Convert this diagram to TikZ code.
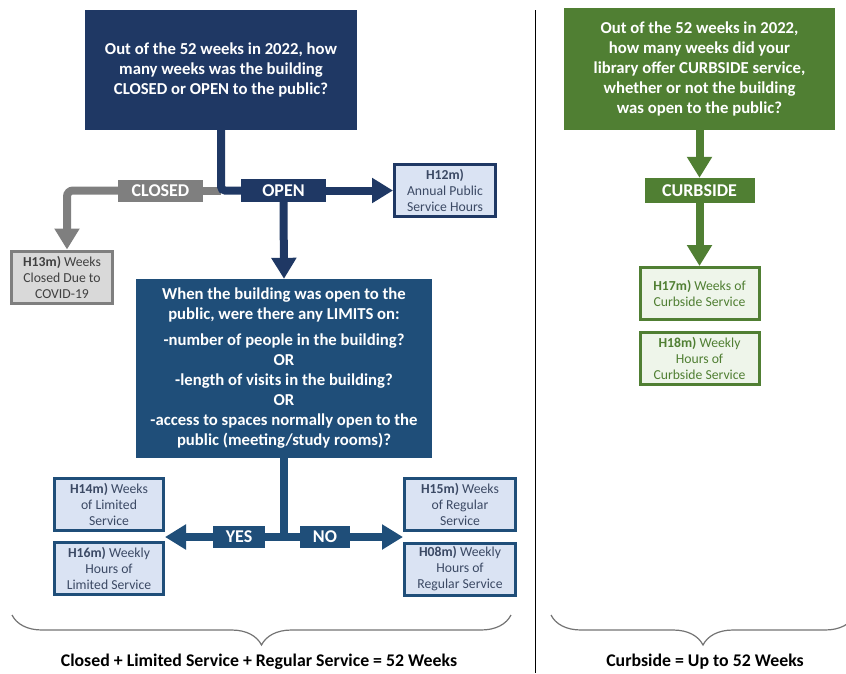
\documentclass[tikz,border=0pt]{standalone}
\usepackage{fontspec}
\setmainfont{Carlito}
\usetikzlibrary{arrows.meta,decorations.pathreplacing}

\definecolor{navy}{HTML}{1F3864}
\definecolor{midblue}{HTML}{1F4E79}
\definecolor{paleblue}{HTML}{DAE3F3}
\definecolor{bluetext}{HTML}{3B4964}
\definecolor{leaf}{HTML}{507F33}
\definecolor{palegreen}{HTML}{EEF5EA}
\definecolor{midgray}{HTML}{7F7F7F}
\definecolor{palegray}{HTML}{D9D9D9}

\tikzstyle{question} = [text=white, font=\bfseries\fontsize{16.7}{20}\selectfont, align=center, inner sep=0pt]
\tikzstyle{tag} = [text=white, font=\bfseries\fontsize{18}{20}\selectfont, inner sep=0pt]
\tikzstyle{field} = [line width=3pt, font=\fontsize{13.7}{16}\selectfont, align=center, inner sep=0pt, minimum height=52pt]
\tikzstyle{bluefield} = [field, draw=midblue, fill=paleblue, text=bluetext]
\tikzstyle{grayfield} = [field, draw=midgray, fill=palegray, text=black!75]
\tikzstyle{greenfield} = [field, draw=leaf, fill=palegreen, text=leaf]
\tikzstyle{line} = [line width=8pt]
\tikzstyle{arrow} = [line width=8pt, -{Triangle[width=24pt,length=21pt]}]
\tikzstyle{brace} = [decorate, decoration={brace, amplitude=30pt}, draw=black!55, line width=1.2pt]
\tikzstyle{total} = [font=\bfseries\fontsize{17.8}{20}\selectfont, inner sep=0pt]

\begin{document}
\begin{tikzpicture}[x=1pt,y=-1pt]
      \useasboundingbox (0,0) rectangle (846,673);

      \node[question, fill=navy, minimum width=272pt, minimum height=120pt] (q1) at (221, 70) {Out of the 52 weeks in 2022, how\\ many weeks was the building\\ CLOSED or OPEN to the public?};
      \node[tag, fill=midgray, minimum width=85pt, minimum height=22pt] (closed) at (160.5, 190.5) {CLOSED};
      \node[tag, fill=navy, minimum width=85pt, minimum height=23pt] (open) at (283.5, 190.5) {OPEN};
      \node[bluefield, draw=navy, minimum width=101pt] (h12) at (445, 190.5) {\textbf{H12m)}\\ Annual Public\\ Service Hours};
      \node[grayfield, minimum width=101pt] (h13) at (62, 277) {\textbf{H13m)} Weeks\\ Closed Due to\\ COVID-19};
      \node[question, fill=midblue, minimum width=296pt, minimum height=179pt] (limits) at (284, 368.5) {When the building was open to the\\ public, were there any LIMITS on:\\[6pt] -number of people in the building?\\ OR\\ -length of visits in the building?\\ OR\\ -access to spaces normally open to the\\ public (meeting/study rooms)?};
      \node[tag, fill=midblue, minimum width=52pt, minimum height=22pt] (yes) at (239, 537) {YES};
      \node[tag, fill=midblue, minimum width=50pt, minimum height=22pt] (no) at (325, 537) {NO};
      \node[bluefield, minimum width=109pt] (h14) at (109, 504) {\textbf{H14m)} Weeks\\ of Limited\\ Service};
      \node[bluefield, minimum width=109pt] (h16) at (109, 568.5) {\textbf{H16m)} Weekly\\ Hours of\\ Limited Service};
      \node[bluefield, minimum width=111pt] (h15) at (460, 504.5) {\textbf{H15m)} Weeks\\ of Regular\\ Service};
      \node[bluefield, minimum width=111pt] (h08) at (460, 569) {\textbf{H08m)} Weekly\\ Hours of\\ Regular Service};

      \node[question, fill=leaf, minimum width=271pt, minimum height=122pt] (q2) at (699.5, 69) {Out of the 52 weeks in 2022,\\ how many weeks did your\\ library offer CURBSIDE service,\\ whether or not the building\\ was open to the public?};
      \node[tag, fill=leaf, minimum width=110pt, minimum height=25pt] (curb) at (699.5, 190.5) {CURBSIDE};
      \node[greenfield, minimum width=119pt] (h17) at (699.5, 293.5) {\textbf{H17m)} Weeks of\\ Curbside Service};
      \node[greenfield, minimum width=119pt] (h18) at (699.5, 358.5) {\textbf{H18m)} Weekly\\ Hours of\\ Curbside Service};

      \node[total] (sum1) at (259, 662) {Closed + Limited Service + Regular Service = 52 Weeks};
      \node[total] (sum2) at (705, 662) {Curbside = Up to 52 Weeks};

      % closed / open split
      \draw[line, midgray] (q1.south |- closed.east) -- (closed.east);
      \draw[arrow, midgray, rounded corners=6pt] (closed.west) -| ([xshift=5pt]h13.north);
      \draw[line, navy, rounded corners=4pt] (q1.south) |- (open.west);
      \draw[arrow, navy] (open.east) -- (h12.west);
      \draw[arrow, navy] (open.south) -- (limits.north);

      % limits yes / no
      \draw[line, midblue] (limits.south) |- (yes.east);
      \draw[line, midblue] (limits.south) |- (no.west);
      \draw[arrow, midblue] (yes.west) -- (yes.west -| h14.east);
      \draw[arrow, midblue] (no.east) -- (no.east -| h15.west);

      % curbside
      \draw[arrow, leaf] (q2.south) -- (curb.north);
      \draw[arrow, leaf] (curb.south) -- (h17.north);

      \draw[line width=1pt] (535, 10) -- (535, 673);
      \draw[brace] (511, 615) -- (12, 615);
      \draw[brace] (855, 615) -- (551, 615);
    \end{tikzpicture}
\end{document}
